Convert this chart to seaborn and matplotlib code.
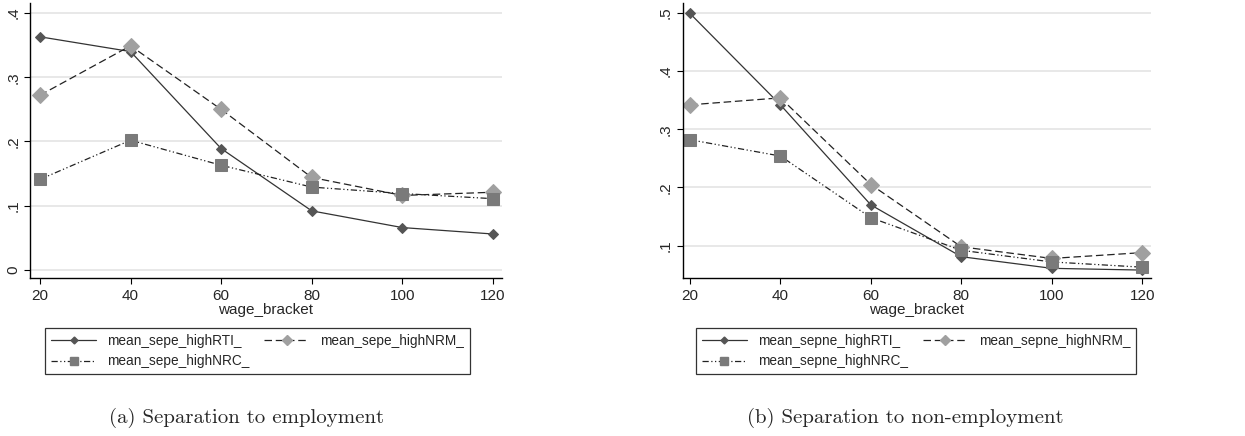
import numpy as np
import matplotlib
matplotlib.use("Agg")
import matplotlib.pyplot as plt
import seaborn as sns
from matplotlib.lines import Line2D

# Data
wage_bracket = [20, 40, 60, 80, 100, 120]

sepe_highRTI = [0.363, 0.340, 0.189, 0.092, 0.066, 0.056]
sepe_highNRM = [0.272, 0.349, 0.250, 0.144, 0.116, 0.121]
sepe_highNRC = [0.141, 0.202, 0.163, 0.129, 0.119, 0.111]

sepne_highRTI = [0.499, 0.342, 0.170, 0.081, 0.061, 0.058]
sepne_highNRM = [0.342, 0.354, 0.205, 0.098, 0.078, 0.088]
sepne_highNRC = [0.282, 0.254, 0.148, 0.092, 0.072, 0.063]

yticks_a = [0, 0.1, 0.2, 0.3, 0.4]
yticks_b = [0.1, 0.2, 0.3, 0.4, 0.5]

sns.set_style("white")
plt.rcParams['font.family'] = ['Liberation Sans', 'DejaVu Sans']

fig = plt.figure(figsize=(12.45, 4.36), dpi=100)
ax1 = fig.add_axes([0.0241, 0.3624, 0.3791, 0.6307])
ax2 = fig.add_axes([0.5484, 0.3624, 0.3759, 0.6307])

# style per series: line colour, marker, marker colour, marker size, dashes
styles = {
    'RTI': dict(color='#333333', marker='D', mfc='#555555', mec='#555555', ms=5, ls='-'),
    'NRM': dict(color='#222222', marker='D', mfc='#a0a0a0', mec='#a0a0a0', ms=8, ls=(0, (6, 3))),
    'NRC': dict(color='#222222', marker='s', mfc='#7a7a7a', mec='#7a7a7a', ms=8,
                ls=(0, (5, 2, 1, 2, 1, 2))),
}


def draw_panel(ax, series, yticks, ylim, xlim, labels, caption, leg_x, cap_x):
    for key, vals in series:
        st = styles[key]
        sns.lineplot(x=wage_bracket, y=vals, ax=ax, color=st['color'], linewidth=0.9,
                     linestyle=st['ls'], marker=st['marker'], markerfacecolor=st['mfc'],
                     markeredgecolor=st['mec'], markersize=st['ms'])
    ax.set_xlim(*xlim)
    ax.set_ylim(*ylim)
    ax.set_xticks(wage_bracket)
    ax.set_xticklabels([str(v) for v in wage_bracket], fontsize=11)
    ax.set_yticks(yticks)
    ax.set_yticklabels(['0' if v == 0 else ('%.1f' % v)[1:] for v in yticks],
                       rotation=90, va='center', fontsize=11)
    ax.yaxis.grid(True, color='#e4e4e4', linewidth=1.2)
    ax.set_axisbelow(True)
    ax.tick_params(axis='both', length=4, width=0.8, color='black', direction='out',
                   left=True, bottom=True)
    ax.tick_params(axis='x', pad=4)
    ax.tick_params(axis='y', pad=3)
    for side in ['top', 'right']:
        ax.spines[side].set_visible(False)
    for side in ['left', 'bottom']:
        ax.spines[side].set_color('black')
        ax.spines[side].set_linewidth(1.0)
    ax.set_xlabel('wage_bracket', fontsize=11, labelpad=0)
    ax.set_ylabel('')

    handles = []
    for key in ['RTI', 'NRM', 'NRC']:
        st = styles[key]
        handles.append(Line2D([], [], color=st['color'], linewidth=0.9, linestyle=st['ls'],
                              marker=st['marker'], markerfacecolor=st['mfc'],
                              markeredgecolor=st['mec'], markersize=st['ms'] * 0.7))
    # column-wise fill: put NRC second so it lands under RTI
    order = [0, 2, 1]
    leg = ax.legend([handles[i] for i in order], [labels[i] for i in order], ncol=2,
                    loc='upper center', bbox_to_anchor=(leg_x, -0.182), fontsize=9.8,
                    frameon=True, fancybox=False, edgecolor='black', handlelength=3.3,
                    numpoints=1, columnspacing=1.1, borderpad=0.45, labelspacing=0.45,
                    handletextpad=0.8, borderaxespad=0)
    leg.get_frame().set_linewidth(0.9)
    ax.text(cap_x, -0.51, caption, transform=ax.transAxes, ha='center', va='center',
            fontsize=15, family='cmr10')


draw_panel(ax1, [('RTI', sepe_highRTI), ('NRM', sepe_highNRM), ('NRC', sepe_highNRC)],
           yticks_a, (-0.0125, 0.4156), (17.8, 122),
           ['mean_sepe_highRTI_', 'mean_sepe_highNRM_', 'mean_sepe_highNRC_'],
           '(a) Separation to employment', 0.482, 0.458)
draw_panel(ax2, [('RTI', sepne_highRTI), ('NRM', sepne_highNRM), ('NRC', sepne_highNRC)],
           yticks_b, (0.0444, 0.517), (18.4, 121.9),
           ['mean_sepne_highRTI_', 'mean_sepne_highNRM_', 'mean_sepne_highNRC_'],
           '(b) Separation to non-employment', 0.4985, 0.476)

fig.savefig('out.png', dpi=100)
